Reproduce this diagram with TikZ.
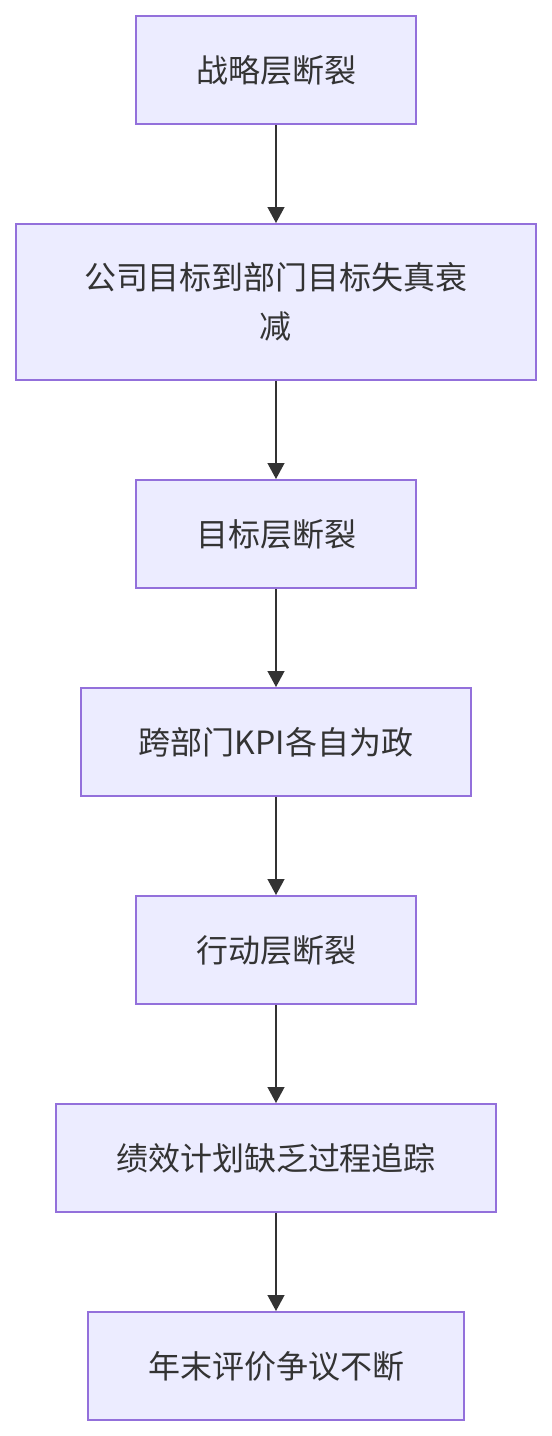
\documentclass[tikz,border=0pt]{standalone}
\usepackage{fontspec}
\setmainfont{Noto Sans CJK SC}
\usetikzlibrary{arrows.meta}
\definecolor{boxfill}{HTML}{ECECFF}
\definecolor{boxline}{HTML}{9370DB}
\definecolor{arrowc}{HTML}{333333}
\begin{document}
\begin{tikzpicture}[x=0.75pt,y=-0.75pt,
  stepbox/.style={draw=boxline,fill=boxfill,line width=1.4pt,rectangle,
    minimum height=81pt,inner sep=0pt,align=center,text=arrowc,
    font=\fontsize{24}{36.5}\selectfont},
  flow/.style={draw=arrowc,line width=1.6pt,-{Triangle[length=12pt,width=12.5pt]}}]
\useasboundingbox (0,0) rectangle (552,1436);
\node[stepbox,minimum width=210pt] (a) at (276,70) {战略层断裂};
\node[stepbox,minimum width=390pt,minimum height=117pt] (b) at (276,302) {公司目标到部门目标失真衰\\减};
\node[stepbox,minimum width=210pt] (c) at (276,534) {目标层断裂};
\node[stepbox,minimum width=292.5pt] (d) at (276,742) {跨部门KPI各自为政};
\node[stepbox,minimum width=210pt] (e) at (276,950) {行动层断裂};
\node[stepbox,minimum width=330pt] (f) at (276,1158) {绩效计划缺乏过程追踪};
\node[stepbox,minimum width=282pt] (g) at (276,1366) {年末评价争议不断};
\draw[flow] (a) -- (b);
\draw[flow] (b) -- (c);
\draw[flow] (c) -- (d);
\draw[flow] (d) -- (e);
\draw[flow] (e) -- (f);
\draw[flow] (f) -- (g);
\end{tikzpicture}
\end{document}
